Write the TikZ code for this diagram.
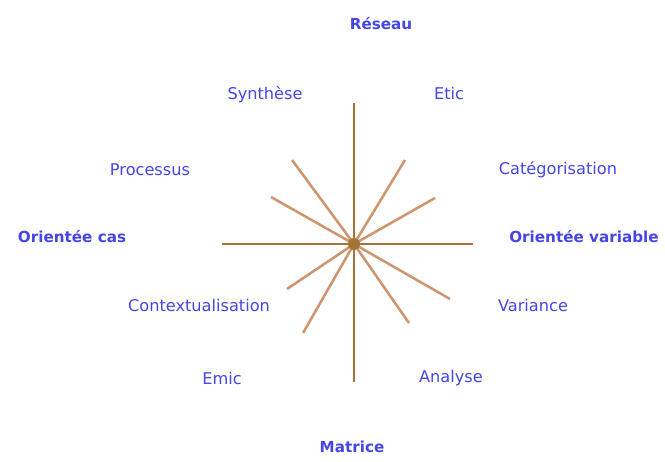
\documentclass[tikz,border=0pt]{standalone}
\usepackage{fontspec}
\setmainfont{DejaVu Sans}
\definecolor{lblblue}{RGB}{70,70,230}
\definecolor{axisbrown}{RGB}{165,115,55}
\definecolor{raytan}{RGB}{205,150,110}

\begin{document}
\begin{tikzpicture}[x=0.025cm, y=-0.025cm,
    lbl/.style={text=lblblue, font=\fontsize{11.5}{13}\selectfont, inner sep=1pt},
    pole/.style={text=lblblue, font=\fontsize{10.8}{12}\selectfont\bfseries, inner sep=1pt},
    axisline/.style={draw=axisbrown, line width=2pt},
    rayline/.style={draw=raytan, line width=1.8pt}]
  \useasboundingbox[fill=white] (0,0) rectangle (665,461);
  \coordinate (c) at (354,244);
  % Rays
  \foreach \name/\x/\y in {ra/292/160,rb/271/197,rc/405/160,rd/435/198,
                           re/287/289,rf/303/333,rg/450/299,rh/409/323} {
    \coordinate (\name) at (\x,\y);
    \draw[rayline] (c) -- (\name);
  }
  % Axes
  \foreach \name/\x/\y in {an/354/103,as/354/382,aw/222/244,ae/473/244} {
    \coordinate (\name) at (\x,\y);
    \draw[axisline] (c) -- (\name);
  }
  \fill[axisbrown] (c) circle (6);
  % Poles
  \node[pole] (reseau) at (381,24) {Réseau};
  \node[pole] (matrice) at (352,447) {Matrice};
  \node[pole] (cas) at (72,237) {Orientée cas};
  \node[pole] (variable) at (584,237) {Orientée variable};
  % Labels
  \node[lbl] (synthese) at (265,95) {Synthèse};
  \node[lbl] (etic) at (449,93) {Etic};
  \node[lbl] (processus) at (150,170) {Processus};
  \node[lbl] (categ) at (558,170) {Catégorisation};
  \node[lbl] (context) at (199,305) {Contextualisation};
  \node[lbl] (variance) at (533,305) {Variance};
  \node[lbl] (emic) at (222,378) {Emic};
  \node[lbl] (analyse) at (451,378) {Analyse};
\end{tikzpicture}
\end{document}
